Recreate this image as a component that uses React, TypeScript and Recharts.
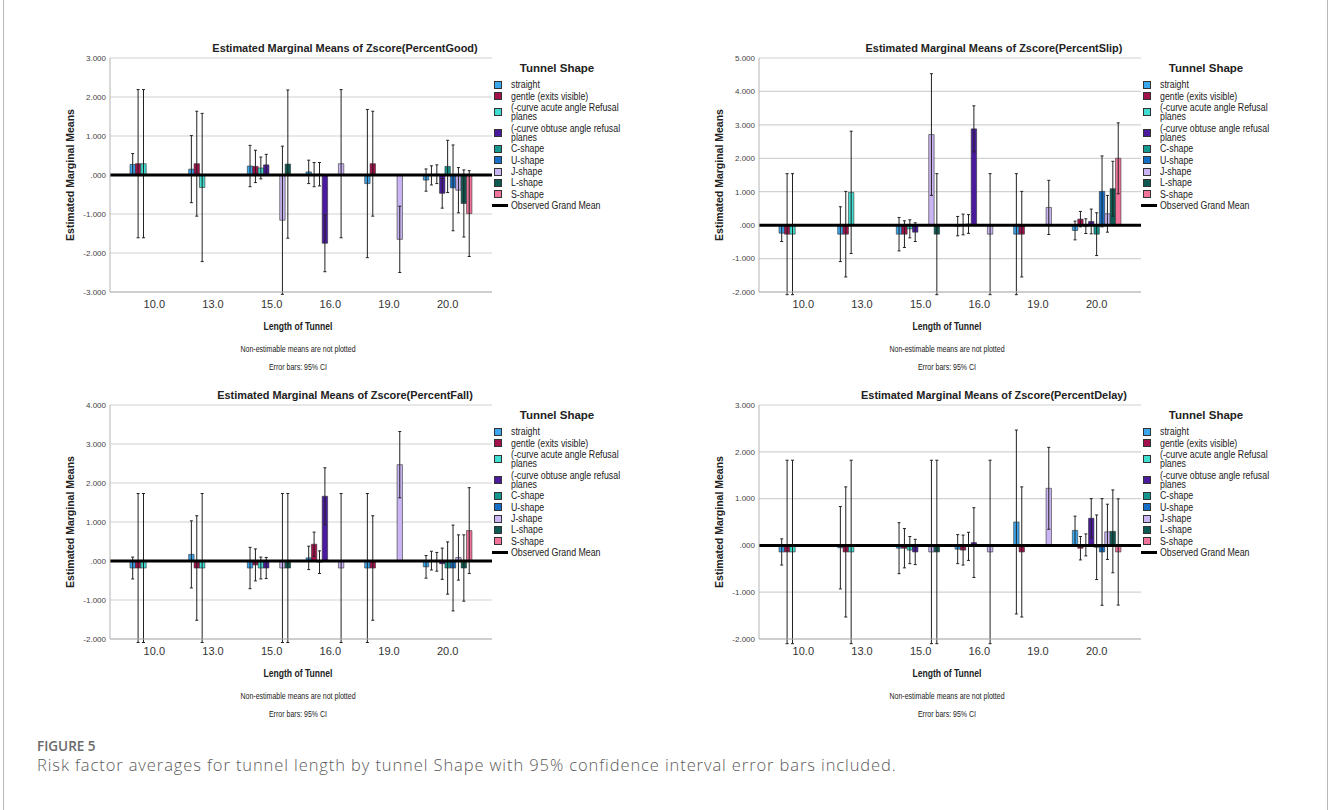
import React from "react"
import {
  BarChart,
  Bar,
  XAxis,
  YAxis,
  CartesianGrid,
  ReferenceLine,
  ErrorBar,
  Legend,
} from "recharts"

const FONT = "'Liberation Sans', Arial, sans-serif"

// tunnel lengths (x categories)
const lengths = ["10.0", "13.0", "15.0", "16.0", "19.0", "20.0"]

// tunnel shapes (series), legend text as printed
const shapes = [
  "straight",
  "gentle (exits visible)",
  "(-curve acute angle Refusal\nplanes",
  "(-curve obtuse angle refusal\nplanes",
  "C-shape",
  "U-shape",
  "J-shape",
  "L-shape",
  "S-shape",
]
const shapeColors = [
  "#3ba7ef",
  "#a3124c",
  "#3fded0",
  "#4b1b9e",
  "#14978e",
  "#156fc6",
  "#c9b5f3",
  "#0c5a52",
  "#f2739a",
]

type Cell = number | null
const _ = null

// means per shape (rows) x length (cols), and 95% CI half widths
const goodMean: Cell[][] = [
  [0.27, 0.15, 0.23, 0.08, -0.22, -0.13],
  [0.29, 0.29, 0.22, 0.01, 0.29, -0.01],
  [0.29, -0.32, 0.18, 0.02, _, 0.02],
  [_, _, 0.26, -1.75, _, -0.47],
  [_, _, _, _, _, 0.22],
  [_, _, _, _, _, -0.33],
  [_, _, -1.16, 0.29, -1.65, -0.39],
  [_, _, 0.28, _, _, -0.73],
  [_, _, _, _, _, -0.99],
]
const goodCI: Cell[][] = [
  [0.28, 0.86, 0.53, 0.3, 1.9, 0.285],
  [1.9, 1.345, 0.415, 0.31, 1.345, 0.245],
  [1.9, 1.9, 0.28, 0.3, _, 0.24],
  [_, _, 0.27, 0.73, _, 0.38],
  [_, _, _, _, _, 0.67],
  [_, _, _, _, _, 1.1],
  [_, _, 1.9, 1.9, 0.85, 0.58],
  [_, _, 1.9, _, _, 0.86],
  [_, _, _, _, _, 1.1],
]

const slipMean: Cell[][] = [
  [-0.24, -0.27, -0.27, -0.03, -0.27, -0.16],
  [-0.27, -0.27, -0.27, 0.02, -0.27, 0.18],
  [-0.27, 0.98, -0.11, 0.035, _, -0.03],
  [_, _, -0.21, 2.88, _, 0.11],
  [_, _, _, _, _, -0.27],
  [_, _, _, _, _, 1.01],
  [_, _, 2.71, -0.27, 0.53, 0.34],
  [_, _, -0.27, _, _, 1.09],
  [_, _, _, _, _, 2.0],
]
const slipCI: Cell[][] = [
  [0.25, 0.82, 0.5, 0.29, 1.81, 0.28],
  [1.81, 1.28, 0.4, 0.31, 1.28, 0.23],
  [1.81, 1.83, 0.27, 0.28, _, 0.22],
  [_, _, 0.28, 0.69, _, 0.37],
  [_, _, _, _, _, 0.64],
  [_, _, _, _, _, 1.06],
  [_, _, 1.82, 1.81, 0.81, 0.55],
  [_, _, 1.81, _, _, 0.82],
  [_, _, _, _, _, 1.06],
]

const fallMean: Cell[][] = [
  [-0.18, 0.17, -0.18, 0.08, -0.18, -0.15],
  [-0.18, -0.18, -0.1, 0.43, -0.18, 0.01],
  [-0.18, -0.18, -0.18, -0.03, _, -0.02],
  [_, _, -0.18, 1.66, _, -0.07],
  [_, _, _, _, _, -0.18],
  [_, _, _, _, _, -0.18],
  [_, _, -0.18, -0.18, 2.47, 0.09],
  [_, _, -0.18, _, _, -0.18],
  [_, _, _, _, _, 0.78],
]
const fallCI: Cell[][] = [
  [0.28, 0.86, 0.53, 0.3, 1.91, 0.29],
  [1.91, 1.34, 0.41, 0.31, 1.34, 0.24],
  [1.91, 1.91, 0.28, 0.29, _, 0.24],
  [_, _, 0.27, 0.73, _, 0.4],
  [_, _, _, _, _, 0.67],
  [_, _, _, _, _, 1.1],
  [_, _, 1.91, 1.91, 0.85, 0.58],
  [_, _, 1.91, _, _, 0.85],
  [_, _, _, _, _, 1.1],
]

const delayMean: Cell[][] = [
  [-0.14, -0.05, -0.06, -0.08, 0.5, 0.32],
  [-0.14, -0.14, -0.06, -0.1, -0.14, -0.06],
  [-0.14, -0.14, -0.1, -0.02, _, 0.01],
  [_, _, -0.14, 0.06, _, 0.58],
  [_, _, _, _, _, -0.04],
  [_, _, _, _, _, -0.14],
  [_, _, -0.14, -0.14, 1.22, 0.29],
  [_, _, -0.14, _, _, 0.3],
  [_, _, _, _, _, -0.14],
]
const delayCI: Cell[][] = [
  [0.28, 0.88, 0.545, 0.31, 1.965, 0.305],
  [1.96, 1.39, 0.42, 0.32, 1.39, 0.25],
  [1.96, 1.96, 0.29, 0.3, _, 0.235],
  [_, _, 0.27, 0.745, _, 0.42],
  [_, _, _, _, _, 0.69],
  [_, _, _, _, _, 1.14],
  [_, _, 1.96, 1.96, 0.875, 0.59],
  [_, _, 1.96, _, _, 0.885],
  [_, _, _, _, _, 1.135],
]

const goodTicks = [-3, -2, -1, 0, 1, 2, 3]
const slipTicks = [-2, -1, 0, 1, 2, 3, 4, 5]
const fallTicks = [-2, -1, 0, 1, 2, 3, 4]
const delayTicks = [-2, -1, 0, 1, 2, 3]

const fmtTick = (v: number) => (v === 0 ? ".000" : v.toFixed(3))

const narrow = (k: number): React.CSSProperties => ({
  display: "inline-block",
  transform: `scaleX(${k})`,
  transformOrigin: "left center",
  whiteSpace: "pre",
})

const ShapeLegend = () => (
  <div style={{ width: 150, fontFamily: FONT, color: "#222" }}>
    <div
      style={{
        width: 134,
        height: 21.5,
        lineHeight: "20px",
        textAlign: "center",
        fontWeight: 700,
        fontSize: 11.5,
      }}
    >
      Tunnel Shape
    </div>
    {shapes.map((name, i) => (
      <div
        key={name}
        style={{ display: "flex", alignItems: "center", padding: "0.95px 0" }}
      >
        <span
          style={{
            width: 6,
            height: 6,
            background: shapeColors[i],
            border: "1px solid #333",
            marginLeft: 4,
            marginRight: 8.5,
            flex: "none",
          }}
        />
        <span style={{ ...narrow(0.88), fontSize: 10, lineHeight: "9.4px" }}>
          {name}
        </span>
      </div>
    ))}
    <div style={{ display: "flex", alignItems: "center", padding: "0.95px 0" }}>
      <span
        style={{
          width: 16,
          height: 3,
          background: "#000",
          marginLeft: 1.7,
          marginRight: 3,
          flex: "none",
        }}
      />
      <span style={{ ...narrow(0.88), fontSize: 10, lineHeight: "9.4px" }}>
        Observed Grand Mean
      </span>
    </div>
  </div>
)

interface PanelProps {
  left: number
  top: number
  title: string
  means: Cell[][]
  cis: Cell[][]
  ticks: number[]
}

const Panel: React.FC<PanelProps> = ({ left, top, title, means, cis, ticks }) => {
  const rows = lengths.map((len, c) => {
    const row: Record<string, string | number> = { len }
    shapes.forEach((_s, s) => {
      const m = means[s][c]
      const e = cis[s][c]
      if (m != null) row[`m${s}`] = m
      if (e != null) row[`e${s}`] = e
    })
    return row
  })

  const note = (y: number, text: string, size: number, bold = false) => (
    <div
      style={{
        position: "absolute",
        left: 98,
        width: 400,
        top: y - 7,
        height: 14,
        lineHeight: "14px",
        textAlign: "center",
        fontSize: size,
        fontWeight: bold ? 700 : 400,
        color: "#222",
        transform: "scaleX(0.78)",
      }}
    >
      {text}
    </div>
  )

  return (
    <div
      style={{
        position: "absolute",
        left,
        top,
        width: 660,
        height: 380,
        fontFamily: FONT,
      }}
    >
      <div
        style={{
          position: "absolute",
          left: 145,
          width: 400,
          top: 41,
          height: 14,
          lineHeight: "14px",
          textAlign: "center",
          fontWeight: 700,
          fontSize: 11.5,
          color: "#222",
          transform: "scaleX(0.95)",
        }}
      >
        {title}
      </div>
      <BarChart
        width={660}
        height={320}
        data={rows}
        margin={{ top: 58, right: 18, left: 60, bottom: 8 }}
        barGap={0}
        barSize={5.4}
      >
        <CartesianGrid vertical={false} stroke="#d2d2d2" strokeWidth={1.2} />
        <XAxis
          dataKey="len"
          padding={{ left: 15, right: 15 }}
          interval={0}
          tickLine={false}
          tickSize={6}
          height={20}
          axisLine={{ stroke: "#b4b4b4" }}
          tick={{ fontSize: 11, fill: "#333" }}
        />
        <YAxis
          domain={[ticks[0], ticks[ticks.length - 1]]}
          ticks={ticks}
          allowDataOverflow
          tickFormatter={fmtTick}
          width={50}
          tickLine={false}
          tickSize={2}
          tickMargin={2}
          axisLine={{ stroke: "#b4b4b4" }}
          tick={{ fontSize: 8, fill: "#444" }}
          label={{
            value: "Estimated Marginal Means",
            angle: -90,
            position: "insideLeft",
            offset: 10,
            style: { textAnchor: "middle", fontWeight: 700, fontSize: 10.5, fill: "#222" },
          }}
        />
        {shapes.map((name, s) => (
          <Bar
            key={name}
            dataKey={`m${s}`}
            name={name}
            fill={shapeColors[s]}
            stroke="#333"
            strokeWidth={0.6}
            isAnimationActive={false}
          >
            <ErrorBar
              dataKey={`e${s}`}
              direction="y"
              width={1.5}
              stroke="#222"
              strokeWidth={1}
            />
          </Bar>
        ))}
        <ReferenceLine y={0} stroke="#000" strokeWidth={3} />
        <Legend
          layout="vertical"
          align="right"
          verticalAlign="top"
          wrapperStyle={{ top: 58, left: 490, right: "auto", width: 150 }}
          content={() => <ShapeLegend />}
        />
      </BarChart>
      {note(326, "Length of Tunnel", 11, true)}
      {note(349, "Non-estimable means are not plotted", 9)}
      {note(367, "Error bars: 95% CI", 9)}
    </div>
  )
}

export default function App() {
  return (
    <div
      style={{
        position: "absolute",
        left: 0,
        top: 0,
        width: 1328,
        height: 810,
        overflow: "hidden",
        background: "#fff",
      }}
    >
      <div
        style={{
          position: "absolute",
          left: 3,
          top: -12,
          width: 1323,
          height: 840,
          border: "1px solid #b8b8b8",
          borderRadius: 8,
        }}
      />
      <Panel left={0} top={0} title="Estimated Marginal Means of Zscore(PercentGood)" means={goodMean} cis={goodCI} ticks={goodTicks} />
      <Panel left={649} top={0} title="Estimated Marginal Means of Zscore(PercentSlip)" means={slipMean} cis={slipCI} ticks={slipTicks} />
      <Panel left={0} top={347} title="Estimated Marginal Means of Zscore(PercentFall)" means={fallMean} cis={fallCI} ticks={fallTicks} />
      <Panel left={649} top={347} title="Estimated Marginal Means of Zscore(PercentDelay)" means={delayMean} cis={delayCI} ticks={delayTicks} />
      <div
        style={{
          position: "absolute",
          left: 37,
          top: 736,
          lineHeight: "20px",
          fontFamily: "'Open Sans', sans-serif",
          fontWeight: 600,
          fontSize: 13.5,
          color: "#6a6a6a",
        }}
      >
        FIGURE 5
      </div>
      <div
        style={{
          position: "absolute",
          left: 37,
          top: 753,
          lineHeight: "24px",
          fontFamily: "'Open Sans', sans-serif",
          fontWeight: 300,
          fontSize: 16.5,
          letterSpacing: 0.9,
          color: "#5a5a5a",
          whiteSpace: "nowrap",
        }}
      >
        Risk factor averages for tunnel length by tunnel Shape with 95% confidence interval error bars included.
      </div>
    </div>
  )
}
